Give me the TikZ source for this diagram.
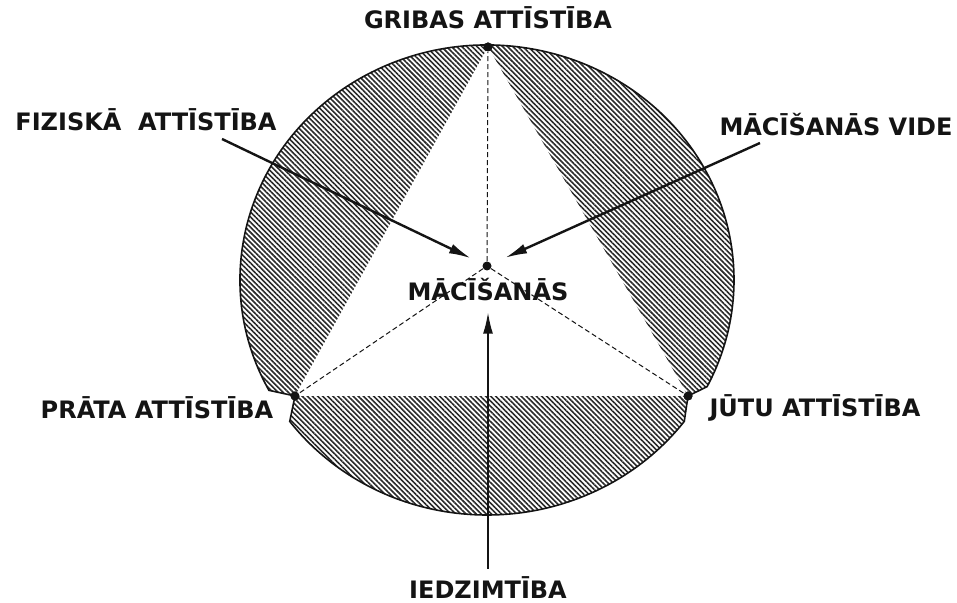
\documentclass[tikz,border=0pt]{standalone}
\usepackage{fontspec}
\setmainfont{DejaVu Sans}
\usetikzlibrary{arrows.meta, patterns.meta}

\begin{document}
\begin{tikzpicture}[
    x=0.5pt, y=0.5pt,
    every node/.style={font=\bfseries\fontsize{12}{14}\selectfont},
]

% ---------------------------------------------------------------- colours
\definecolor{ink}{HTML}{141414}      % outline, arrows, text
\definecolor{hatchink}{HTML}{2A2A2A} % the striped ring

% ---------------------------------------------------------------- styles
\tikzset{
    caption/.style={text=ink, inner sep=0pt},
    dot/.style={circle, fill=ink, inner sep=0pt, minimum size=4.5pt},
    spoke/.style={ink, line width=0.5pt, dash pattern=on 2.5pt off 1.5pt},
    force/.style={-{Latex[length=11pt, width=5pt]}, line width=1.2pt, ink},
    ring/.style={
        draw=ink, line width=0.8pt,
        pattern={Lines[angle=-45, distance=1.8pt, line width=0.8pt]},
        pattern color=hatchink,
    },
}

\useasboundingbox (0,0) rectangle (957,603);

% ================================================================
% GEOMETRY (units of 0.5pt, y up)
%   ring       ellipse centre (487,323), radii 247 x 235
%   corners    top (488,556), left (295,207), right (688,207)
%   middle     (487,337)
% ================================================================

% ---------------------------------------------------------------- the points
\node[dot] (A) at (488,556) {};
\node[dot] (L) at (295,207) {};
\node[dot] (R) at (688,207) {};
\node[dot] (M) at (487,337) {};

% ---------------------------------------------------------------- the ring
% outer rim is cut in a little at both lower corners
\path[ring] (L.center)
    -- ([shift={(487,323)}]208:123.5pt and 117.5pt)
    arc[start angle=208, end angle=-27, x radius=123.5pt, y radius=117.5pt]
    -- (R.center)
    -- ([shift={(487,323)}]323:123.5pt and 117.5pt)
    arc[start angle=323, end angle=217, x radius=123.5pt, y radius=117.5pt]
    -- cycle;

% the clear triangle inside
\fill[white] (A.center) -- (L.center) -- (R.center) -- cycle;

\draw[spoke] (M) -- (A);
\draw[spoke] (M) -- (L);
\draw[spoke] (M) -- (R);

% dots again, on top of the white
\node[dot] at (A) {};
\node[dot] at (L) {};
\node[dot] at (R) {};
\node[dot] at (M) {};

% ---------------------------------------------------------------- the labels
\node[caption] (gribas)  at (488,585) {GRIBAS ATTĪSTĪBA};
\node[caption] (fiziska) at (146,483) {FIZISKĀ\ \ ATTĪSTĪBA};
\node[caption] (vide)    at (836,478) {MĀCĪŠANĀS VIDE};
\node[caption] (prata)   at (157,195) {PRĀTA ATTĪSTĪBA};
\node[caption] (jutu)    at (815,195) {JŪTU ATTĪSTĪBA};
\node[caption] (iedzimt) at (488,15)  {IEDZIMTĪBA};
\node[caption] (macis)   at (488,313) {MĀCĪŠANĀS};

% ---------------------------------------------------------------- the arrows
\coordinate (fTail) at (222,464);
\coordinate (vTail) at (760,460);

\draw[force, shorten >=6.5pt] (fTail) -- (M);
\draw[force, shorten >=7.5pt] (vTail) -- (M);
\draw[force, shorten <=4pt, shorten >=5pt] (iedzimt) -- (macis);

\end{tikzpicture}
\end{document}
